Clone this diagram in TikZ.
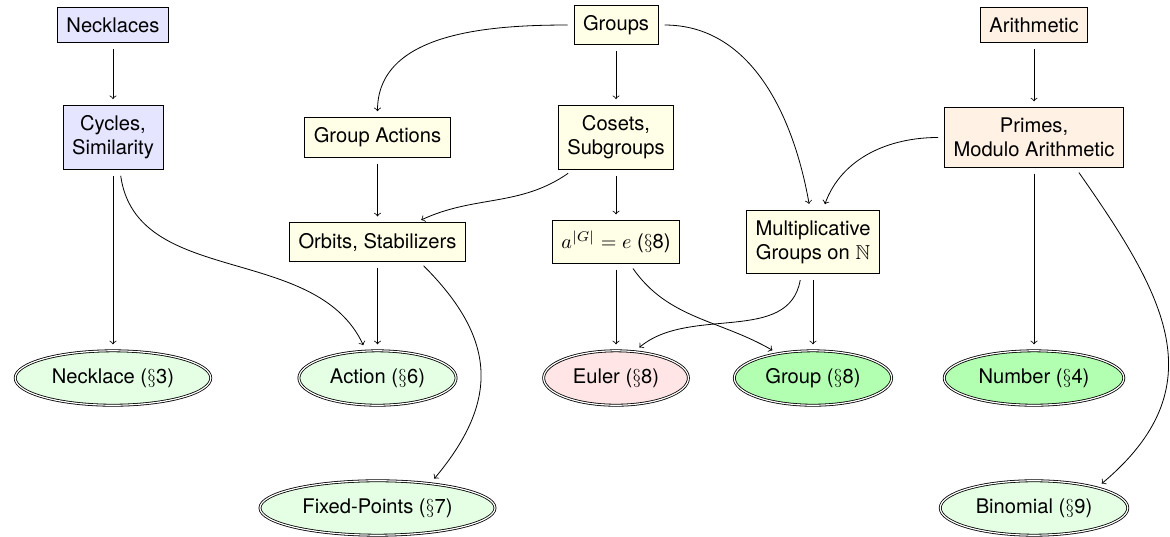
\documentclass[tikz,border=0pt]{standalone}
\usepackage[no-math]{fontspec}
\setmainfont{TeX Gyre Heros}
\usepackage{amssymb}
\usetikzlibrary{shapes.geometric}

\begin{document}
\begin{tikzpicture}[
		topic/.style={draw, rectangle, inner xsep=4.5pt, inner ysep=5pt, align=center},
		result/.style={draw, ellipse, double, fill=green!10, inner xsep=4pt, minimum height=27pt},
		link/.style={->, shorten <=3pt, shorten >=3pt}]
		% frame
		\useasboundingbox (0,0) rectangle (20.4,-9.346);
		% Topics
		\node [topic, fill=blue!10]   (neck)   at (1.970,-0.436)  {Necklaces};
		\node [topic, fill=blue!10]   (cyc)    at (1.970,-2.397)  {Cycles,\\Similarity};
		\node [topic, fill=yellow!10] (groups) at (10.741,-0.436) {Groups};
		\node [topic, fill=yellow!10] (gact)   at (6.582,-2.397)  {Group Actions};
		\node [topic, fill=yellow!10] (coset)  at (10.741,-2.397) {Cosets,\\Subgroups};
		\node [topic, fill=yellow!10] (orbit)  at (6.582,-4.219)  {Orbits, Stabilizers};
		\node [topic, fill=yellow!10] (lagr)   at (10.741,-4.219) {$a^{|G|}=e$ ($\S$8)};
		\node [topic, fill=yellow!10] (mult)   at (14.175,-4.219) {Multiplicative\\Groups on $\mathbb{N}$};
		\node [topic, fill=orange!10] (arith)  at (18.029,-0.436) {Arithmetic};
		\node [topic, fill=orange!10] (primes) at (18.029,-2.397) {Primes,\\Modulo Arithmetic};
		% Results
		\node [result] (rneck)  at (1.970,-6.591)  {Necklace ($\S$3)};
		\node [result] (ract)   at (6.582,-6.591)  {Action ($\S$6)};
		\node [result, fill=red!10]   (reuler) at (10.741,-6.591) {Euler ($\S$8)};
		\node [result, fill=green!30] (rgroup) at (14.175,-6.591) {Group ($\S$8)};
		\node [result, fill=green!30] (rnum)   at (18.029,-6.591) {Number ($\S$4)};
		\node [result] (rfix)   at (6.582,-8.857)  {Fixed-Points ($\S$7)};
		\node [result] (rbin)   at (18.029,-8.857) {Binomial ($\S$9)};
		% Straight links
		\foreach \a/\b in {neck/cyc, cyc/rneck, groups/coset, coset/lagr, gact/orbit,
				orbit/ract, lagr/reuler, mult/rgroup, arith/primes, primes/rnum}
			\draw [link] (\a) -- (\b);
		% Curved links
		\draw [link] (groups.west) to [out=180, in=90] (gact.north);
		\draw [link] (groups.east) to [out=0, in=100] (mult.95);
		\draw [link] (primes.west) to [out=180, in=70] (mult.73);
		\draw [link] (coset.-143) to [out=-145, in=25] (orbit.27);
		\draw [link] (cyc.-78) to [out=-82, in=115] (ract.113);
		\draw [link] (orbit.-25) to [out=-45, in=50, looseness=1.25] (rfix.25);
		\draw [link] (lagr.-58) to [out=-55, in=150] (rgroup.145);
		\draw [link] (mult.-110) to [out=-100, in=40] (reuler.55);
		\draw [link] (primes.-36) to [out=-55, in=40, looseness=1.25] (rbin.18);
	\end{tikzpicture}
\end{document}
